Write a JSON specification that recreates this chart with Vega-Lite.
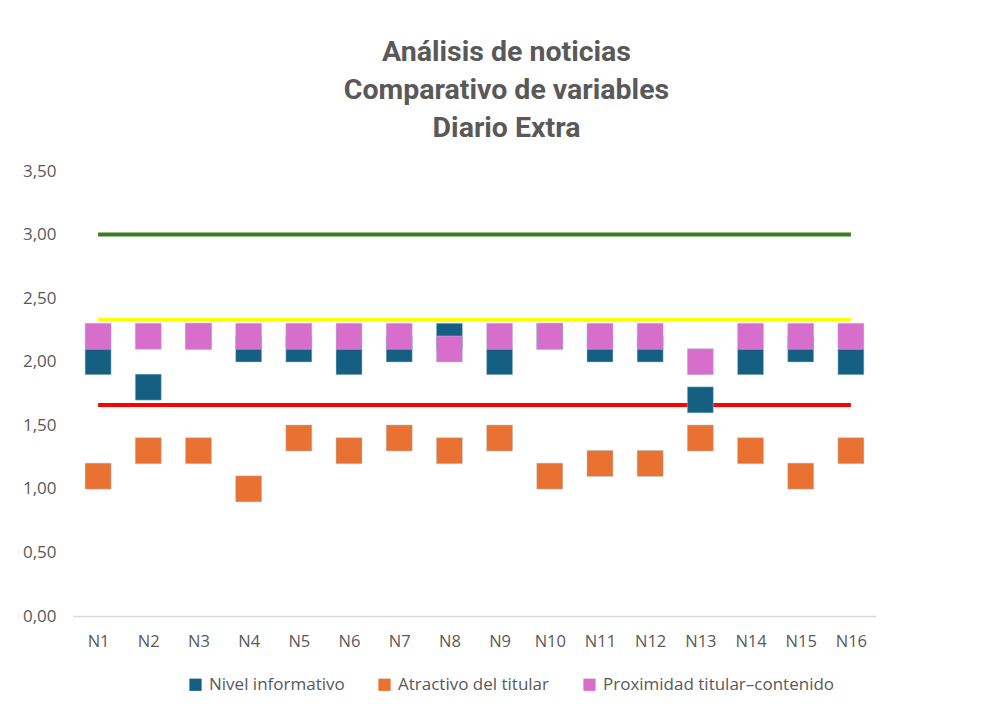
{
  "$schema": "https://vega.github.io/schema/vega-lite/v6.json",
  "width": 803,
  "height": 445,
  "autosize": {"type": "none"},
  "padding": {"left": 73, "top": 171, "right": 112, "bottom": 97},
  "background": "white",
  "config": {
    "locale": {"number": {"decimal": ",", "thousands": ".", "grouping": [3], "currency": ["", " €"]}},
    "view": {"stroke": null},
    "font": "Open Sans"
  },
  "title": {
    "text": ["Análisis de noticias", "Comparativo de variables", "Diario Extra"],
    "font": "Roboto",
    "fontSize": 28.5,
    "fontWeight": "bold",
    "color": "#595959",
    "anchor": "middle",
    "lineHeight": 38,
    "offset": 20,
    "dx": 32
  },
  "data": {
    "values": [
      {"N": "N1", "Nivel informativo": 2.0, "Atractivo del titular": 1.1, "Proximidad titular–contenido": 2.2, "sup": 3, "med": 2.33, "inf": 1.66},
      {"N": "N2", "Nivel informativo": 1.8, "Atractivo del titular": 1.3, "Proximidad titular–contenido": 2.2, "sup": 3, "med": 2.33, "inf": 1.66},
      {"N": "N3", "Nivel informativo": 2.2, "Atractivo del titular": 1.3, "Proximidad titular–contenido": 2.2, "sup": 3, "med": 2.33, "inf": 1.66},
      {"N": "N4", "Nivel informativo": 2.1, "Atractivo del titular": 1.0, "Proximidad titular–contenido": 2.2, "sup": 3, "med": 2.33, "inf": 1.66},
      {"N": "N5", "Nivel informativo": 2.1, "Atractivo del titular": 1.4, "Proximidad titular–contenido": 2.2, "sup": 3, "med": 2.33, "inf": 1.66},
      {"N": "N6", "Nivel informativo": 2.0, "Atractivo del titular": 1.3, "Proximidad titular–contenido": 2.2, "sup": 3, "med": 2.33, "inf": 1.66},
      {"N": "N7", "Nivel informativo": 2.1, "Atractivo del titular": 1.4, "Proximidad titular–contenido": 2.2, "sup": 3, "med": 2.33, "inf": 1.66},
      {"N": "N8", "Nivel informativo": 2.2, "Atractivo del titular": 1.3, "Proximidad titular–contenido": 2.1, "sup": 3, "med": 2.33, "inf": 1.66},
      {"N": "N9", "Nivel informativo": 2.0, "Atractivo del titular": 1.4, "Proximidad titular–contenido": 2.2, "sup": 3, "med": 2.33, "inf": 1.66},
      {"N": "N10", "Nivel informativo": 2.2, "Atractivo del titular": 1.1, "Proximidad titular–contenido": 2.2, "sup": 3, "med": 2.33, "inf": 1.66},
      {"N": "N11", "Nivel informativo": 2.1, "Atractivo del titular": 1.2, "Proximidad titular–contenido": 2.2, "sup": 3, "med": 2.33, "inf": 1.66},
      {"N": "N12", "Nivel informativo": 2.1, "Atractivo del titular": 1.2, "Proximidad titular–contenido": 2.2, "sup": 3, "med": 2.33, "inf": 1.66},
      {"N": "N13", "Nivel informativo": 1.7, "Atractivo del titular": 1.4, "Proximidad titular–contenido": 2.0, "sup": 3, "med": 2.33, "inf": 1.66},
      {"N": "N14", "Nivel informativo": 2.0, "Atractivo del titular": 1.3, "Proximidad titular–contenido": 2.2, "sup": 3, "med": 2.33, "inf": 1.66},
      {"N": "N15", "Nivel informativo": 2.1, "Atractivo del titular": 1.1, "Proximidad titular–contenido": 2.2, "sup": 3, "med": 2.33, "inf": 1.66},
      {"N": "N16", "Nivel informativo": 2.0, "Atractivo del titular": 1.3, "Proximidad titular–contenido": 2.2, "sup": 3, "med": 2.33, "inf": 1.66}
    ]
  },
  "encoding": {
    "x": {
      "field": "N",
      "type": "nominal",
      "sort": null,
      "axis": {
        "title": null,
        "labelAngle": 0,
        "labelFont": "Open Sans",
        "labelFontSize": 16.5,
        "labelColor": "#595959",
        "labelPadding": 17,
        "ticks": false,
        "domainColor": "#d9d9d9",
        "domainWidth": 1.5,
        "grid": false
      }
    }
  },
  "layer": [
    {
      "mark": {"type": "line", "color": "#3a7d22", "strokeWidth": 4},
      "encoding": {
        "y": {
          "field": "sup",
          "type": "quantitative",
          "scale": {"domain": [0, 3.5], "nice": false},
          "axis": {
            "title": null,
            "values": [0, 0.5, 1, 1.5, 2, 2.5, 3, 3.5],
            "format": ".2f",
            "domain": false,
            "ticks": false,
            "grid": false,
            "labelFont": "Open Sans",
            "labelFontSize": 17,
            "labelColor": "#595959",
            "labelPadding": 17
          }
        }
      }
    },
    {
      "mark": {"type": "line", "color": "#ffff00", "strokeWidth": 4},
      "encoding": {"y": {"field": "med", "type": "quantitative", "title": null}}
    },
    {
      "mark": {"type": "line", "color": "#ff0000", "strokeWidth": 4},
      "encoding": {"y": {"field": "inf", "type": "quantitative", "title": null}}
    },
    {
      "transform": [
        {"fold": ["Nivel informativo", "Atractivo del titular", "Proximidad titular–contenido"], "as": ["Serie", "Valor"]}
      ],
      "mark": {"type": "square", "size": 676, "filled": true, "opacity": 1, "stroke": "#a9c8da", "strokeWidth": 0.8, "strokeOpacity": 0.6},
      "encoding": {
        "y": {"field": "Valor", "type": "quantitative", "title": null},
        "color": {
          "field": "Serie",
          "type": "nominal",
          "scale": {
            "domain": ["Nivel informativo", "Atractivo del titular", "Proximidad titular–contenido"],
            "range": ["#156082", "#e97132", "#d86ecc"]
          },
          "legend": {
            "title": null,
            "orient": "none",
            "direction": "horizontal",
            "legendX": 114,
            "legendY": 505,
            "symbolType": "square",
            "symbolSize": 150,
            "symbolStrokeWidth": 0,
            "labelFontSize": 17,
            "labelFont": "Open Sans",
            "labelColor": "#595959",
            "labelLimit": 0,
            "columnPadding": 31,
            "labelOffset": 5
          }
        }
      }
    }
  ]
}
